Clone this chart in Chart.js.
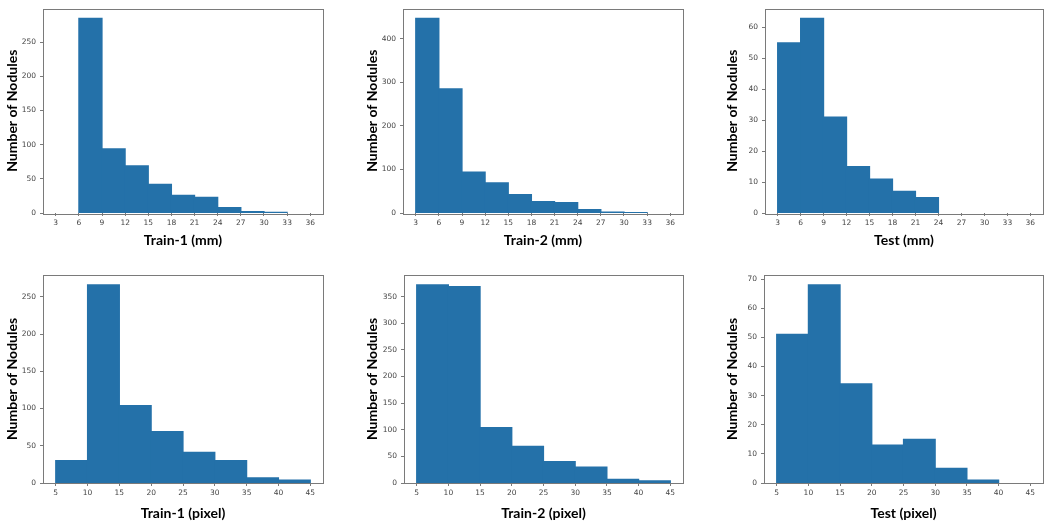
<!DOCTYPE html>
<html>
<head>
<meta charset="utf-8">
<script src="https://cdn.jsdelivr.net/npm/chart.js@4"></script>
<style>
  html, body { margin: 0; padding: 0; background: #fff; }
  #wrap { position: relative; width: 1050px; height: 525px; }
  .cell { position: absolute; }
  canvas { display: block; }
</style>
</head>
<body>
<div id="wrap"></div>
<script>
// ==========================
// DATA
// ==========================
const mmEdges    = [3, 6, 9, 12, 15, 18, 21, 24, 27, 30, 33, 36];
const pixelEdges = [5, 10, 15, 20, 25, 30, 35, 40, 45];

const mmTicks    = [3, 6, 9, 12, 15, 18, 21, 24, 27, 30, 33, 36];
const pixelTicks = [5, 10, 15, 20, 25, 30, 35, 40, 45];

const train1Mm    = [0, 285, 94, 69, 42, 26, 23, 8, 2, 1, 0];
const train2Mm    = [447, 285, 94, 69, 42, 26, 24, 8, 2, 1, 0];
const testMm      = [55, 63, 31, 15, 11, 7, 5, 0, 0, 0, 0];
const train1Pixel = [30, 266, 104, 69, 41, 30, 7, 4];
const train2Pixel = [372, 369, 104, 69, 40, 30, 7, 4];
const testPixel   = [51, 68, 34, 13, 15, 5, 1, 0];

const yTicksTrain1Mm    = [0, 50, 100, 150, 200, 250];
const yTicksTrain2Mm    = [0, 100, 200, 300, 400];
const yTicksTestMm      = [0, 10, 20, 30, 40, 50, 60];
const yTicksTrain1Pixel = [0, 50, 100, 150, 200, 250];
const yTicksTrain2Pixel = [0, 50, 100, 150, 200, 250, 300, 350];
const yTicksTestPixel   = [0, 10, 20, 30, 40, 50, 60, 70];

const xTitles = ['Train-1 (mm)', 'Train-2 (mm)', 'Test (mm)',
                 'Train-1 (pixel)', 'Train-2 (pixel)', 'Test (pixel)'];

// ==========================
// LAYOUT (canvas boxes)
// ==========================
const panels = [
  { left: 0,   top: 0,   w: 350, h: 262, edges: mmEdges,    counts: train1Mm,    xt: mmTicks,    yt: yTicksTrain1Mm,    yW: 43, padR: 27, padT: 5,  xH: 49, yTitlePad: 3,  xTitlePad: 13 },
  { left: 350, top: 0,   w: 350, h: 262, edges: mmEdges,    counts: train2Mm,    xt: mmTicks,    yt: yTicksTrain2Mm,    yW: 53, padR: 17, padT: 5,  xH: 49, yTitlePad: 13, xTitlePad: 13 },
  { left: 700, top: 0,   w: 350, h: 262, edges: mmEdges,    counts: testMm,      xt: mmTicks,    yt: yTicksTestMm,      yW: 65, padR: 7,  padT: 5,  xH: 49, yTitlePad: 23, xTitlePad: 13 },
  { left: 0,   top: 262, w: 350, h: 263, edges: pixelEdges, counts: train1Pixel, xt: pixelTicks, yt: yTicksTrain1Pixel, yW: 43, padR: 27, padT: 13, xH: 42, yTitlePad: 3,  xTitlePad: 3 },
  { left: 350, top: 262, w: 350, h: 263, edges: pixelEdges, counts: train2Pixel, xt: pixelTicks, yt: yTicksTrain2Pixel, yW: 54, padR: 17, padT: 13, xH: 42, yTitlePad: 13, xTitlePad: 3 },
  { left: 700, top: 262, w: 350, h: 263, edges: pixelEdges, counts: testPixel,   xt: pixelTicks, yt: yTicksTestPixel,   yW: 64, padR: 7,  padT: 13, xH: 42, yTitlePad: 23, xTitlePad: 3 }
];

const BAR_COLOR   = '#2471a9';
const SPINE_COLOR = '#7a7a7a';
const TICK_COLOR  = '#444';

// frame round the plot area (matplotlib spines)
const framePlugin = {
  id: 'frame',
  afterDraw(chart) {
    const { ctx, chartArea: a } = chart;
    ctx.save();
    ctx.strokeStyle = SPINE_COLOR;
    ctx.lineWidth = 1;
    ctx.strokeRect(Math.round(a.left) + 0.5, Math.round(a.top) + 0.5,
                   Math.round(a.right - a.left), Math.round(a.bottom - a.top));
    ctx.restore();
  }
};

const wrap = document.getElementById('wrap');

panels.forEach((p, i) => {
  const div = document.createElement('div');
  div.className = 'cell';
  div.style.left = p.left + 'px';
  div.style.top = p.top + 'px';
  div.style.width = p.w + 'px';
  div.style.height = p.h + 'px';
  const canvas = document.createElement('canvas');
  canvas.width = p.w;
  canvas.height = p.h;
  canvas.style.width = p.w + 'px';
  canvas.style.height = p.h + 'px';
  div.appendChild(canvas);
  wrap.appendChild(div);

  const first = p.edges[0];
  const last = p.edges[p.edges.length - 1];
  const span = last - first;
  const peak = Math.max(...p.counts);

  // empty bins are left out, like matplotlib draws nothing there
  const points = p.counts.map((c, k) => ({ x: (p.edges[k] + p.edges[k + 1]) / 2, y: c > 0 ? c : null }));

  new Chart(canvas, {
    type: 'bar',
    data: {
      datasets: [{
        data: points,
        backgroundColor: BAR_COLOR,
        borderColor: BAR_COLOR,
        borderWidth: 0,
        inflateAmount: 0.6,
        barPercentage: 1,
        categoryPercentage: 1
      }]
    },
    options: {
      responsive: false,
      animation: false,
      devicePixelRatio: 1,
      layout: { padding: { left: 0, right: p.padR, top: p.padT, bottom: 0 } },
      plugins: { legend: { display: false }, tooltip: { enabled: false } },
      scales: {
        x: {
          type: 'linear',
          offset: false,
          min: first - span * 0.05,
          max: last + span * 0.05,
          afterBuildTicks: s => { s.ticks = p.xt.map(v => ({ value: v })); },
          afterFit: s => { s.height = p.xH; },
          border: { display: false },
          grid: { display: true, drawOnChartArea: false, offset: false, tickLength: 3, color: SPINE_COLOR },
          ticks: { color: TICK_COLOR, font: { family: 'DejaVu Sans', size: 7.5 }, padding: 3, maxRotation: 0, autoSkip: false },
          title: {
            display: true, text: xTitles[i], color: '#000',
            font: { family: 'Lato', weight: 'bold', size: 14 },
            padding: { top: 0, bottom: p.xTitlePad }
          }
        },
        y: {
          min: 0,
          max: peak * 1.05,
          afterBuildTicks: s => { s.ticks = p.yt.map(v => ({ value: v })); },
          afterFit: s => { s.width = p.yW; },
          border: { display: false },
          grid: { display: true, drawOnChartArea: false, tickLength: 3, color: SPINE_COLOR },
          ticks: { color: TICK_COLOR, font: { family: 'DejaVu Sans', size: 7.5 }, padding: 4 },
          title: {
            display: true, text: 'Number of Nodules', color: '#000',
            font: { family: 'Lato', weight: 'bold', size: 14 },
            padding: { top: p.yTitlePad + 1, bottom: 0 }
          }
        }
      }
    },
    plugins: [framePlugin]
  });
});
</script>
</body>
</html>
